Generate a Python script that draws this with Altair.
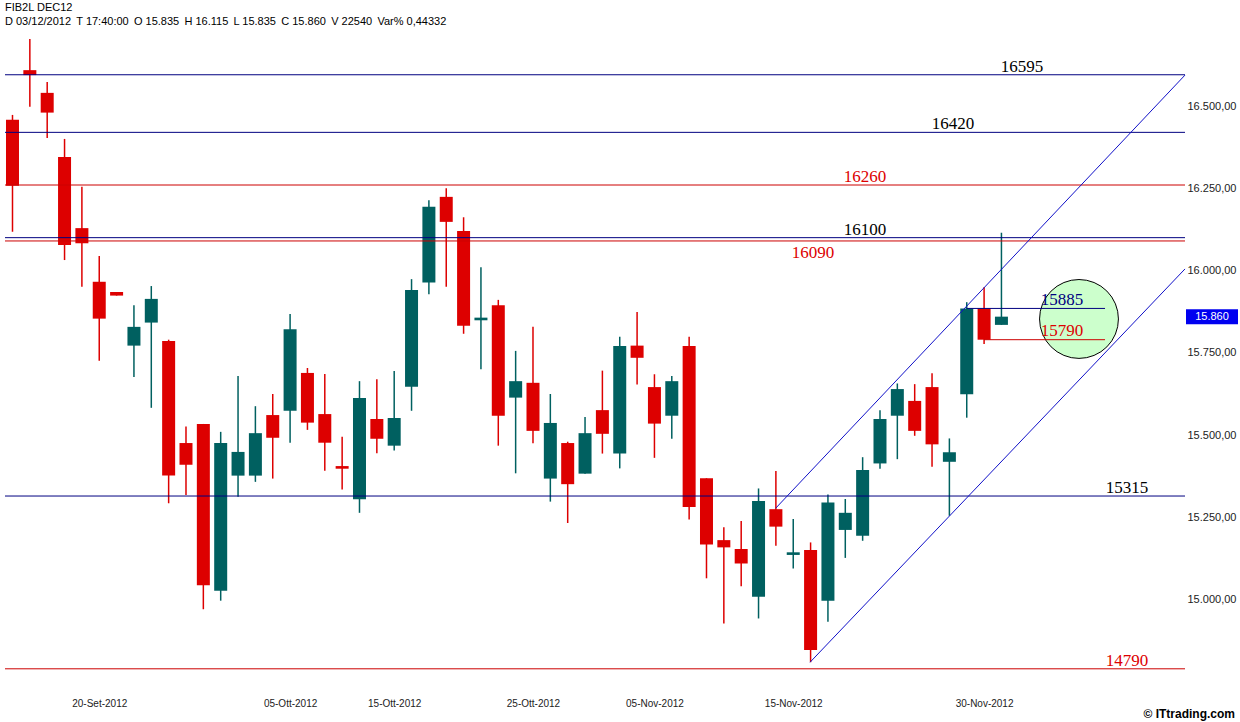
import altair as alt
import pandas as pd

# ---------------- data ----------------
dates = ["13/09", "14/09", "17/09", "18/09", "19/09", "20/09", "21/09", "24/09", "25/09", "26/09",
         "27/09", "28/09", "01/10", "02/10", "03/10", "04/10", "05/10", "08/10", "09/10", "10/10",
         "11/10", "12/10", "15/10", "16/10", "17/10", "18/10", "19/10", "22/10", "23/10", "24/10",
         "25/10", "26/10", "29/10", "30/10", "31/10", "01/11", "02/11", "05/11", "06/11", "07/11",
         "08/11", "09/11", "12/11", "13/11", "14/11", "15/11", "16/11", "19/11", "20/11", "21/11",
         "22/11", "23/11", "26/11", "27/11", "28/11", "29/11", "30/11", "03/12"]
opens = [16458, 16609, 16540, 16345, 16129, 15966, 15935, 15772, 15842, 15786,
         15476, 15534, 15027, 15377, 15377, 15561, 15574, 15689, 15564, 15406,
         15305, 15549, 15468, 15647, 15964, 16224, 16120, 15849, 15895, 15614,
         15659, 15368, 15476, 15383, 15576, 15444, 15772, 15646, 15559, 15771,
         15369, 15181, 15154, 15009, 15275, 15136, 15151, 14997, 15212, 15194,
         15414, 15559, 15604, 15646, 15419, 15624, 15885, 15835]
highs = [16473, 16704, 16573, 16400, 16255, 16044, 15935, 15895, 15953, 15790,
         15526, 15534, 15510, 15680, 15588, 15625, 15868, 15704, 15686, 15495,
         15664, 15670, 15695, 15974, 16214, 16250, 16162, 16010, 15911, 15756,
         15829, 15625, 15480, 15555, 15696, 15799, 15874, 15685, 15680, 15799,
         15369, 15220, 15239, 15338, 15391, 15245, 15174, 15320, 15306, 15433,
         15576, 15657, 15655, 15688, 15490, 15904, 15949, 16115]
lows = [16118, 16498, 16403, 16032, 15951, 15726, 15924, 15677, 15583, 15293,
        15318, 14971, 14997, 15313, 15358, 15368, 15477, 15516, 15392, 15335,
        15264, 15445, 15453, 15574, 15928, 15951, 15808, 15700, 15468, 15384,
        15475, 15298, 15233, 15383, 15444, 15399, 15654, 15431, 15489, 15244,
        15065, 14928, 15041, 14943, 15164, 15095, 14810, 14933, 15127, 15179,
        15398, 15427, 15498, 15404, 15255, 15553, 15777, 15835]
closes = [16258, 16594, 16480, 16078, 16083, 15854, 15924, 15829, 15914, 15377,
          15410, 15044, 15476, 15449, 15506, 15492, 15822, 15538, 15477, 15398,
          15613, 15489, 15552, 15941, 16194, 16148, 15832, 15857, 15559, 15664,
          15513, 15537, 15351, 15506, 15504, 15771, 15735, 15535, 15664, 15282,
          15168, 15159, 15110, 15300, 15222, 15144, 14847, 15295, 15264, 15394,
          15549, 15640, 15513, 15472, 15448, 15885, 15790, 15860]

# x-axis labels (index of candle -> text)
xlabel_idx = [5, 16, 22, 30, 37, 45, 56]
xlabel_txt = ["20-Set-2012", "05-Ott-2012", "15-Ott-2012", "25-Ott-2012",
              "05-Nov-2012", "15-Nov-2012", "30-Nov-2012"]
ytick_values = [15000, 15250, 15500, 15750, 16000, 16250, 16500]

# horizontal support / resistance levels
navy_levels = [16595, 16420, 16100, 15315]
red_levels = [16260, 16090, 14790]
navy_label_x = [58.18, 54.21, 49.13, 64.24]
red_label_x = [49.13, 46.14, 64.24]
red_label_dy = [-3, 17, -3]

# short lines near the end
short_levels = [15885, 15790]
short_start = [55, 56]
short_end = [62.97, 62.97]
short_label_x = [60.49, 60.49]

# channel lines (start idx, start value, end idx, end value)
chan_x = [43.99, 45.97]
chan_y = [15278, 14810]
chan_x2 = [67.58, 67.58]
chan_y2 = [16594, 16005]

circle_x = [61.47]
circle_y = [15853]

last_price = 15860
SEP = " \u2009"
header1 = "FIB2L DEC12"
header2 = SEP.join(["D 03/12/2012", "T 17:40:00", "O 15.835", "H 16.115",
                    "L 15.835", "C 15.860", "V 22540", "Var% 0,44332"])

# ---------------- chart ----------------
W, H = 1180, 650
RED = "#dd0000"
TEAL = "#006060"
NAVY = "#000080"
LRED = "#cc0000"

df = pd.DataFrame({"i": list(range(len(dates))), "date": dates, "open": opens,
                   "high": highs, "low": lows, "close": closes})
df["dir"] = ["up" if c >= o else "down" for o, c in zip(opens, closes)]

xs = alt.Scale(domain=[-0.432, 67.58], nice=False, zero=False, padding=0)
ys = alt.Scale(domain=[14756, 16731], nice=False, zero=False, padding=0)

lab_expr = "".join([f"datum.value == {k} ? '{t}' : " for k, t in zip(xlabel_idx, xlabel_txt)]) + "''"
x_axis = alt.Axis(values=xlabel_idx, labelExpr=lab_expr, grid=False, domain=False, ticks=False,
                  labelPadding=18, labelFontSize=10, labelFont="Liberation Sans",
                  labelColor="#222222", title=None, labelOverlap=False)
y_axis = alt.Axis(orient="right", values=ytick_values,
                  labelExpr="replace(replace(replace(format(datum.value, ',.2f'), ',', '#'), '.', ','), '#', '.')",
                  grid=False, domain=False, ticks=False, labelPadding=2, labelFontSize=11,
                  labelFont="Liberation Sans", labelColor="#222222", title=None)

X = alt.X("i:Q", scale=xs, axis=x_axis)
color = alt.Color("dir:N", scale=alt.Scale(domain=["up", "down"], range=[TEAL, RED]), legend=None)

base = alt.Chart(df)
wicks = base.mark_rule(strokeWidth=1.5).encode(
    x=X, y=alt.Y("low:Q", scale=ys, axis=y_axis), y2="high:Q", color=color)
bodies = base.mark_bar(size=13).encode(
    x=X, y=alt.Y("open:Q", scale=ys, axis=y_axis), y2="close:Q", color=color)

circle = alt.Chart(pd.DataFrame({"x": circle_x, "y": circle_y})).mark_point(
    shape="circle", filled=True, fill="#ccffcc", stroke="black", strokeWidth=1,
    size=6220, opacity=1).encode(
    x=alt.X("x:Q", scale=xs, axis=x_axis), y=alt.Y("y:Q", scale=ys, axis=y_axis))

navy_df = pd.DataFrame({"v": navy_levels, "lx": navy_label_x, "t": [str(v) for v in navy_levels]})
red_df = pd.DataFrame({"v": red_levels, "lx": red_label_x, "dy": red_label_dy,
                       "t": [str(v) for v in red_levels]})

navy_rules = alt.Chart(navy_df).mark_rule(color=NAVY, strokeWidth=1).encode(
    y=alt.Y("v:Q", scale=ys, axis=y_axis))
red_rules = alt.Chart(red_df).mark_rule(color=LRED, strokeWidth=1).encode(
    y=alt.Y("v:Q", scale=ys, axis=y_axis))

txt_kw = dict(font="Liberation Serif", fontSize=17, baseline="alphabetic", align="center")
navy_text = alt.Chart(navy_df).mark_text(color="black", dy=-3, **txt_kw).encode(
    x=alt.X("lx:Q", scale=xs, axis=x_axis), y=alt.Y("v:Q", scale=ys, axis=y_axis), text="t:N")
red_text_layers = []
for j in range(len(red_levels)):
    red_text_layers.append(
        alt.Chart(red_df.iloc[[j]]).mark_text(color=RED, dy=red_label_dy[j], **txt_kw).encode(
            x=alt.X("lx:Q", scale=xs, axis=x_axis), y=alt.Y("v:Q", scale=ys, axis=y_axis), text="t:N"))

short_df = pd.DataFrame({"v": short_levels, "s": short_start, "e": short_end, "lx": short_label_x,
                         "t": [str(v) for v in short_levels]})
short_navy = alt.Chart(short_df.iloc[[0]]).mark_rule(color=NAVY, strokeWidth=1).encode(
    x=alt.X("s:Q", scale=xs, axis=x_axis), x2="e:Q", y=alt.Y("v:Q", scale=ys, axis=y_axis))
short_red = alt.Chart(short_df.iloc[[1]]).mark_rule(color=LRED, strokeWidth=1).encode(
    x=alt.X("s:Q", scale=xs, axis=x_axis), x2="e:Q", y=alt.Y("v:Q", scale=ys, axis=y_axis))
short_navy_t = alt.Chart(short_df.iloc[[0]]).mark_text(color=NAVY, dy=-3, **txt_kw).encode(
    x=alt.X("lx:Q", scale=xs, axis=x_axis), y=alt.Y("v:Q", scale=ys, axis=y_axis), text="t:N")
short_red_t = alt.Chart(short_df.iloc[[1]]).mark_text(color=RED, dy=-4, **txt_kw).encode(
    x=alt.X("lx:Q", scale=xs, axis=x_axis), y=alt.Y("v:Q", scale=ys, axis=y_axis), text="t:N")

chan_df = pd.DataFrame({"x": chan_x, "y": chan_y, "x2": chan_x2, "y2": chan_y2})
channels = alt.Chart(chan_df).mark_rule(color="#1010c8", strokeWidth=1).encode(
    x=alt.X("x:Q", scale=xs, axis=x_axis), x2="x2:Q",
    y=alt.Y("y:Q", scale=ys, axis=y_axis), y2="y2:Q")

price_df = pd.DataFrame({"v": [last_price], "t": [f"{last_price/1000:.3f}"]})
price_box = alt.Chart(price_df).mark_tick(orient="horizontal", size=52, thickness=15,
                                          color="#0000f0", opacity=1).encode(
    x=alt.value(W + 27), y=alt.Y("v:Q", scale=ys, axis=y_axis))
price_txt = alt.Chart(price_df).mark_text(color="white", font="Liberation Sans", fontSize=11,
                                          align="center", baseline="middle").encode(
    x=alt.value(W + 27), y=alt.Y("v:Q", scale=ys, axis=y_axis), text="t:N")

hdr_df = pd.DataFrame({"t": [header1, header2]})
hdr1 = alt.Chart(hdr_df.iloc[[0]]).mark_text(font="Liberation Sans", fontSize=11, align="left",
                                              baseline="middle", color="black").encode(
    x=alt.value(0), y=alt.value(-22), text="t:N")
hdr2 = alt.Chart(hdr_df.iloc[[1]]).mark_text(font="Liberation Sans", fontSize=11, align="left",
                                              baseline="middle", color="black").encode(
    x=alt.value(0), y=alt.value(-8), text="t:N")
copy_df = pd.DataFrame({"t": ["© ITtrading.com"]})
copyright = alt.Chart(copy_df).mark_text(font="Liberation Sans", fontSize=12, fontWeight="bold",
                                         align="right", baseline="middle", color="black").encode(
    x=alt.value(W + 50), y=alt.value(H + 34), text="t:N")

chart = alt.layer(
    circle, wicks, bodies, navy_rules, red_rules, short_navy, short_red, channels,
    navy_text, *red_text_layers, short_navy_t, short_red_t,
    price_box, price_txt, hdr1, hdr2, copyright
).properties(
    width=W, height=H,
    autosize=alt.AutoSizeParams(type="none"),
    padding={"left": 5, "top": 30, "right": 55, "bottom": 42},
    background="white",
).configure_view(stroke=None)

chart.save("out.html", embed_options={"renderer": "svg", "actions": False})
